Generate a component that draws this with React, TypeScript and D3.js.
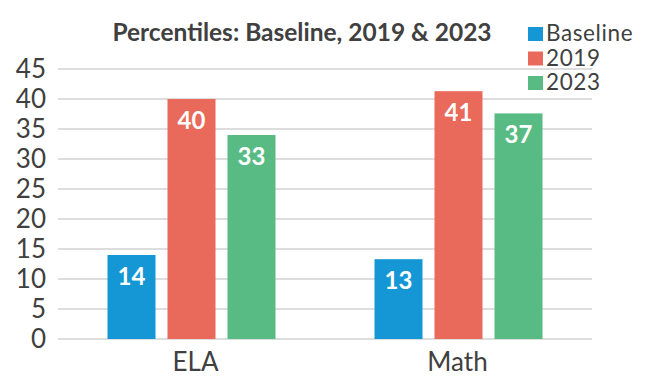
import React from "react";
import * as d3 from "d3";

const categories = ["ELA", "Math"];
const seriesNames = ["Baseline", "2019", "2023"];
const baselineValues = [14, 13.3];
const y2019Values = [40, 41.3];
const y2023Values = [34, 37.6];
const baselineLabels = ["14", "13"];
const y2019Labels = ["40", "41"];
const y2023Labels = ["33", "37"];
const yTicks = [0, 5, 10, 15, 20, 25, 30, 35, 40, 45];
const colors = ["#1597D5", "#E9695A", "#59BB84"];
const title = "Percentiles: Baseline, 2019 & 2023";

const W = 646;
const H = 386;
const FONT = "Lato, 'Noto Sans', sans-serif";

export default function App() {
  const left = 58;
  const right = 592;
  const top = 69;
  const bottom = 339;

  const x = d3.scaleBand<string>().domain(categories).range([left, right]).padding(0);
  const xInner = d3
    .scaleBand<string>()
    .domain(seriesNames)
    .range([0, x.bandwidth()])
    .paddingInner(0.2)
    .paddingOuter(0.825);
  const y = d3.scaleLinear().domain([0, 45]).range([bottom, top]);

  const seriesValues = [baselineValues, y2019Values, y2023Values];
  const seriesLabels = [baselineLabels, y2019Labels, y2023Labels];

  return (
    <div style={{ position: "absolute", left: 0, top: 0 }}>
      <svg width={W} height={H} style={{ display: "block", background: "#fff" }}>
        <text
          x={302}
          y={41}
          textAnchor="middle"
          fontFamily={FONT}
          fontWeight={700}
          fontSize={24.5}
          fill="#404040"
        >
          {title}
        </text>
        {yTicks.map((t) => (
          <g key={t}>
            <line
              x1={left}
              x2={right}
              y1={y(t)}
              y2={y(t)}
              stroke="#D2D2D2"
              strokeWidth={1.5}
            />
            <text
              x={46}
              y={y(t) + 9}
              textAnchor="end"
              fontFamily={FONT}
              fontSize={26}
              fill="#404040"
            >
              {t}
            </text>
          </g>
        ))}
        {categories.map((c, ci) => (
          <g key={c}>
            {seriesNames.map((s, si) => {
              const v = seriesValues[si][ci];
              const bx = (x(c) as number) + (xInner(s) as number);
              const bw = xInner.bandwidth();
              return (
                <g key={s}>
                  <rect x={bx} y={y(v)} width={bw} height={y(0) - y(v)} fill={colors[si]} />
                  <text
                    x={bx + bw / 2}
                    y={y(v) + 30}
                    textAnchor="middle"
                    fontFamily={FONT}
                    fontWeight={700}
                    fontSize={24}
                    fill="#ffffff"
                  >
                    {seriesLabels[si][ci]}
                  </text>
                </g>
              );
            })}
            <text
              x={(x(c) as number) + x.bandwidth() / 2 + (ci === 0 ? 4 : -1)}
              y={371}
              textAnchor="middle"
              fontFamily={FONT}
              fontSize={26}
              fill="#404040"
            >
              {c}
            </text>
          </g>
        ))}
        {seriesNames.map((s, si) => (
          <g key={s}>
            <rect x={528} y={27 + si * 24.5} width={15} height={14} fill={colors[si]} />
            <text
              x={546}
              y={41 + si * 24.5}
              fontFamily={FONT}
              fontSize={22.5}
              letterSpacing={0.6}
              fill="#404040"
            >
              {s}
            </text>
          </g>
        ))}
      </svg>
    </div>
  );
}
